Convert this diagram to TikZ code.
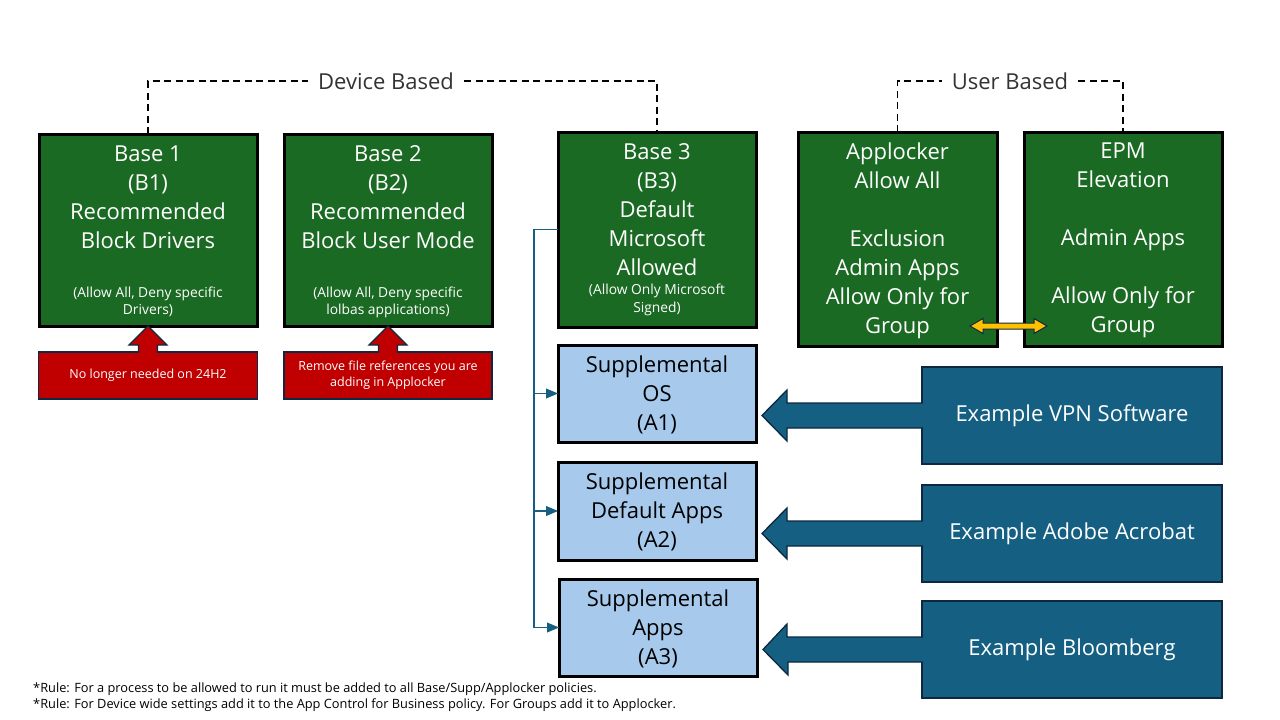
\documentclass[tikz,border=0pt]{standalone}
\usepackage{fontspec}
\setmainfont{Open Sans}
\usepackage{tikz}
\usetikzlibrary{calc,arrows}

\begin{document}
\begin{tikzpicture}[x=1pt,y=-1pt,
  box/.style={draw=black, line width=3pt, inner sep=0pt, outer sep=0pt},
  greenbox/.style={box, fill=polGreen},
  suppbox/.style={box, fill=suppBlue},
  notebox/.style={draw=edgeNavy, line width=1.5pt, fill=noteRed, text=white, inner sep=0pt, outer sep=0pt, align=center, font=\fontsize{12.5}{16}\selectfont},
  appbox/.style={draw=edgeNavy, line width=1.5pt, fill=appTeal, text=white, inner sep=0pt, outer sep=0pt, font=\fontsize{22}{29}\selectfont},
  bigtxt/.style={inner sep=0pt, align=center, anchor=north, font=\fontsize{22}{29}\selectfont},
  smalltxt/.style={inner sep=0pt, align=center, anchor=north, font=\fontsize{13.8}{17.5}\selectfont},
  grouplbl/.style={inner xsep=10pt, inner ysep=0pt, text=black!80, font=\fontsize{22}{29}\selectfont},
  grouplink/.style={draw=black, line width=1.5pt, dash pattern=on 7pt off 4.5pt},
  feed/.style={draw=appTeal, line width=1.8pt},
  blockarr/.style={draw=edgeNavy, line width=1.3pt, line join=miter},
  ruletxt/.style={inner sep=0pt, anchor=west, font=\fontsize{12.8}{15}\selectfont}]
\definecolor{polGreen}{RGB}{27,106,36}
\definecolor{suppBlue}{RGB}{166,201,236}
\definecolor{noteRed}{RGB}{192,0,0}
\definecolor{appTeal}{RGB}{21,96,130}
\definecolor{edgeNavy}{RGB}{14,40,65}
\definecolor{swapGold}{RGB}{255,192,0}
\fill[white] (0,0) rectangle (1280,720);
\useasboundingbox (0,0) rectangle (1280,720);

% base policies
\node[greenbox, minimum width=218pt, minimum height=192pt] (b1) at (148,230) {};
\node[greenbox, minimum width=208pt, minimum height=192pt] (b2) at (388,230) {};
\node[greenbox, minimum width=198pt, minimum height=195pt] (b3) at (657,229.5) {};
\node[bigtxt, text=white] (b1main) at ($(b1.north)+(0,11.5)$) {Base 1\\(B1)\\Recommended\\Block Drivers};
\node[smalltxt, text=white] (b1note) at ($(b1.north)+(0,152.5)$) {(Allow All, Deny specific\\Drivers)};
\node[bigtxt, text=white] (b2main) at ($(b2.north)+(0,11.5)$) {Base 2\\(B2)\\Recommended\\Block User Mode};
\node[smalltxt, text=white] (b2note) at ($(b2.north)+(0,152.5)$) {(Allow All, Deny specific\\lolbas applications)};
\node[bigtxt, text=white] (b3main) at ($(b3.north)+(0,11)$) {Base 3\\(B3)\\Default\\Microsoft\\Allowed};
\node[smalltxt, text=white] (b3note) at ($(b3.north)+(0,152)$) {(Allow Only Microsoft\\Signed)};

% user based
\node[greenbox, minimum width=199pt, minimum height=214pt] (ap) at (897.5,239) {};
\node[greenbox, minimum width=198pt, minimum height=214pt] (epm) at (1123,239) {};
\node[bigtxt, text=white] (apmain) at ($(ap.north)+(0,11)$) {Applocker\\Allow All\\[29pt]Exclusion\\Admin Apps\\Allow Only for\\Group};
\node[bigtxt, text=white] (epmmain) at ($(epm.north)+(0,11)$) {EPM\\Elevation\\[29pt]Admin Apps\\[29pt]Allow Only for\\Group};

% supplementals
\node[suppbox, minimum width=198pt, minimum height=97pt] (s1) at (657,393.5) {};
\node[suppbox, minimum width=198pt, minimum height=98pt] (s2) at (657,511) {};
\node[suppbox, minimum width=198pt, minimum height=97pt] (s3) at (658,627.5) {};
\node[bigtxt] (s1txt) at ($(s1.north)+(0,11)$) {Supplemental\\OS\\(A1)};
\node[bigtxt] (s2txt) at ($(s2.north)+(0,11)$) {Supplemental\\Default Apps\\(A2)};
\node[bigtxt] (s3txt) at ($(s3.north)+(0,11)$) {Supplemental\\Apps\\(A3)};

% notes
\node[notebox, minimum width=219pt, minimum height=47pt] (red1) at (148,375.5) {No longer needed on 24H2};
\node[notebox, minimum width=208pt, minimum height=47pt] (red2) at (388,375.5) {Remove file references you are\\adding in Applocker};

% example apps
\node[appbox, minimum width=300pt, minimum height=97pt] (vpn) at (1072,415.5) {Example VPN Software};
\node[appbox, minimum width=300pt, minimum height=97pt] (acro) at (1072,533.5) {Example Adobe Acrobat};
\node[appbox, minimum width=300pt, minimum height=97pt] (bloom) at (1072,649.5) {Example Bloomberg};

% group brackets
\node[grouplbl] (devlbl) at (386,81) {Device Based};
\node[grouplbl] (usrlbl) at (1010,81) {User Based};
\draw[grouplink] (b1.north) |- (devlbl.west);
\draw[grouplink] (devlbl.east) -| (b3.north);
\draw[grouplink] (ap.north) |- (usrlbl.west);
\draw[grouplink] (usrlbl.east) -| (epm.north);

% base 3 feeds the supplementals
\draw[feed] (b3.west) -- ++(-24,0) |- (s3.west);
\foreach \dst in {s1,s2,s3}
  \draw[feed,->,>=triangle 45] (b3.west) -- ++(-24,0) |- (\dst.west);

% block arrows
\foreach \src/\dst in {red1/b1,red2/b2}
  \draw[blockarr, fill=noteRed] ($(\src.north)+(-9.5,1)$) -- ++(0,-8) -- ++(-9.5,0) -- (\dst.south) -- ++(19,19) -- ++(-9.5,0) -- ($(\src.north)+(9.5,1)$);
\foreach \src/\dst in {vpn/s1,acro/s2,bloom/s3}
  \draw[blockarr, fill=appTeal] ($(\src.west)+(1,-12.5)$) -- ++(-136,0) -- ++(0,-13) -- ($(\dst.east |- \src.west)+(6,0)$) -- ++(25,25.5) -- ++(0,-13) -- ($(\src.west)+(1,12.5)$);

% applocker <-> epm
\coordinate (dl) at ($(ap.south east)+(-27,-20)$);
\coordinate (dr) at ($(epm.south west)+(23,-20)$);
\draw[draw=edgeNavy, line width=1pt, fill=swapGold] (dl) -- ++(13,-7.5) -- ++(0,4.5) -- ($(dr)+(-13,-3)$) -- ++(0,-4.5) -- (dr) -- ++(-13,7.5) -- ++(0,-4.5) -- ($(dl)+(13,3)$) -- ++(0,4.5) -- cycle;

% rules
\node[ruletxt] (rule1) at (33,689) {*Rule: For a process to be allowed to run it must be added to all Base/Supp/Applocker policies.};
\node[ruletxt] (rule2) at (33,705) {*Rule: For Device wide settings add it to the App Control for Business policy. For Groups add it to Applocker.};
\end{tikzpicture}
\end{document}
